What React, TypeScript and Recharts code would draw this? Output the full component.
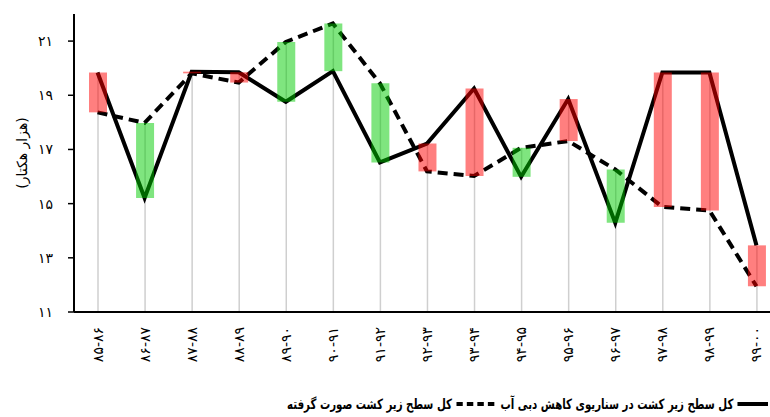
import React, { useLayoutEffect, useRef, useState } from 'react';
import { ComposedChart, Line, Bar, Cell, XAxis, YAxis, Legend } from 'recharts';

const categories = ['۸۵-۸۶', '۸۶-۸۷', '۸۷-۸۸', '۸۸-۸۹', '۸۹-۹۰', '۹۰-۹۱', '۹۱-۹۲', '۹۲-۹۳', '۹۳-۹۴', '۹۴-۹۵', '۹۵-۹۶', '۹۶-۹۷', '۹۷-۹۸', '۹۸-۹۹', '۹۹-۰۰'];
const scenario = [19.84, 15.21, 19.87, 19.85, 18.76, 19.89, 16.52, 17.22, 19.25, 15.99, 18.86, 14.29, 19.84, 19.84, 13.46];
const actual = [18.37, 17.98, 19.81, 19.47, 20.97, 21.65, 19.44, 16.19, 16.02, 17.06, 17.31, 16.26, 14.88, 14.75, 11.95];
const yTicks = [11, 13, 15, 17, 19, 21];
const yDomain = [11, 22];
const scenarioName = 'کل سطح زیر کشت در سناریوی کاهش دبی آب';
const actualName = 'کل سطح زیر کشت صورت گرفته';
const yLabel = '(هزار هکتار)';

const data = categories.map((name, i) => ({
  name,
  scenario: scenario[i],
  actual: actual[i],
  range: [Math.min(scenario[i], actual[i]), Math.max(scenario[i], actual[i])],
  top: Math.max(scenario[i], actual[i]),
  up: actual[i] >= scenario[i],
}));

const faDigits = '۰۱۲۳۴۵۶۷۸۹';
const toFa = (v: number | string) => String(v).replace(/[0-9]/g, (d) => faDigits[Number(d)]);

const FONT = '"DejaVu Sans", sans-serif';
const LEGEND_FONT = '"DejaVu Sans Condensed", "DejaVu Sans", sans-serif';
const LEGEND_WIDTH = 481;

const XTick = (props: any) => {
  const { x, y, payload } = props;
  return (
    <text
      x={x}
      y={y}
      transform={`rotate(-90, ${x}, ${y})`}
      textAnchor="end"
      dominantBaseline="central"
      fontFamily={FONT}
      fontSize={14}
      letterSpacing={1.5}
      fill="#000"
    >
      {payload.value}
    </text>
  );
};

const DropLine = (props: any) => {
  const { x, y, width, height } = props;
  if (height == null || isNaN(height)) return null;
  const cx = x + width / 2;
  return <line x1={cx} x2={cx} y1={y} y2={y + height} stroke="#cfcfcf" strokeWidth={1.5} />;
};

const legendText: React.CSSProperties = {
  fontFamily: LEGEND_FONT,
  fontWeight: 'bold',
  fontSize: 14,
  color: '#000',
  whiteSpace: 'nowrap',
  lineHeight: '20px',
};

const LegendContent = () => {
  const ref = useRef<HTMLDivElement>(null);
  const [scale, setScale] = useState(1);
  useLayoutEffect(() => {
    if (ref.current) {
      const w = ref.current.offsetWidth;
      if (w > 0) setScale(Math.min(1, LEGEND_WIDTH / w));
    }
  }, []);
  return (
    <div style={{ position: 'relative', width: 768, height: 24 }}>
      <div
        ref={ref}
        dir="rtl"
        style={{
          position: 'absolute',
          right: 0,
          top: 0,
          display: 'inline-flex',
          alignItems: 'center',
          height: 24,
          transform: `scaleX(${scale})`,
          transformOrigin: 'right center',
        }}
      >
        <svg width={38} height={8} style={{ display: 'block', flex: 'none' }}>
          <line x1={0} x2={38} y1={4} y2={4} stroke="#000" strokeWidth={4} />
        </svg>
        <span style={{ ...legendText, marginRight: 5 }}>{scenarioName}</span>
        <svg width={48} height={8} style={{ display: 'block', flex: 'none', marginRight: 7 }}>
          <line x1={0} x2={48} y1={4} y2={4} stroke="#000" strokeWidth={4} strokeDasharray="8 5" />
        </svg>
        <span style={{ ...legendText, marginRight: 5 }}>{actualName}</span>
      </div>
    </div>
  );
};

export default function App() {
  return (
    <div style={{ position: 'absolute', left: 0, top: 0, width: 770, height: 417, overflow: 'hidden', background: '#fff' }}>
      <ComposedChart width={800} height={417} data={data} margin={{ top: 14, right: 20, left: 14, bottom: 45 }}>
        <XAxis
          dataKey="name"
          interval={0}
          tickLine={false}
          axisLine={{ stroke: '#000', strokeWidth: 2 }}
          tickSize={6}
          tickMargin={9}
          tick={<XTick />}
          height={60}
        />
        <XAxis xAxisId="drop" dataKey="name" hide />
        <YAxis
          domain={yDomain}
          ticks={yTicks}
          allowDataOverflow
          width={60}
          tickFormatter={toFa}
          axisLine={{ stroke: '#000', strokeWidth: 2 }}
          tickLine={{ stroke: '#000', strokeWidth: 1.5 }}
          tickSize={6}
          tickMargin={15}
          tick={{ fill: '#000', fontSize: 14, fontFamily: FONT }}
          label={{
            content: () => (
              <text x={22} y={153} transform="rotate(-90, 22, 153)" textAnchor="middle" dominantBaseline="central" fontFamily={FONT} fontSize={14} fill="#000">
                {yLabel}
              </text>
            ),
          }}
        />
        <Bar xAxisId="drop" dataKey="top" barSize={2} shape={<DropLine />} isAnimationActive={false} />
        <Line type="linear" dataKey="actual" stroke="#000" strokeWidth={4} strokeDasharray="10 6" dot={false} activeDot={false} isAnimationActive={false} />
        <Line type="linear" dataKey="scenario" stroke="#000" strokeWidth={4} dot={false} activeDot={false} isAnimationActive={false} />
        <Bar dataKey="range" barSize={18} isAnimationActive={false} zIndex={450}>
          {data.map((d, i) => (
            <Cell key={i} fill={d.up ? '#00cc00' : '#ff0000'} fillOpacity={0.5} />
          ))}
        </Bar>
        <Legend
          layout="horizontal"
          verticalAlign="middle"
          align="center"
          content={<LegendContent />}
          wrapperStyle={{ position: 'absolute', left: 0, top: 392, width: 770, height: 24 }}
        />
      </ComposedChart>
    </div>
  );
}
